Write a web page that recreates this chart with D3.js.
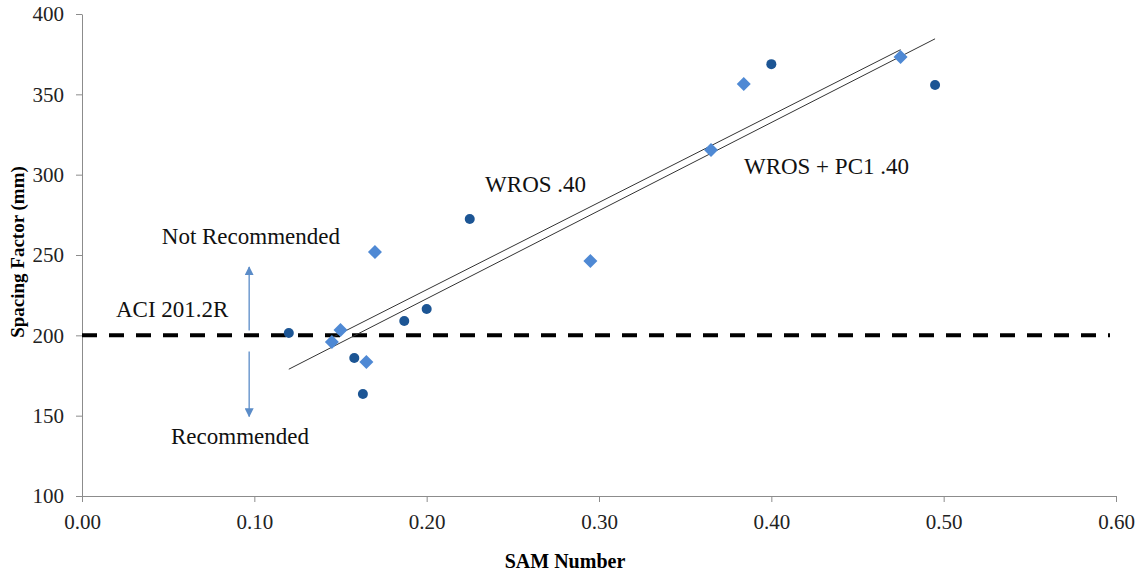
<!DOCTYPE html>
<html>
<head>
<meta charset="utf-8">
<script src="https://cdn.jsdelivr.net/npm/d3@7"></script>
<style>
body { margin: 0; background: #fff; }
svg text { font-family: "Times New Roman", "Liberation Serif", Times, "DejaVu Serif", serif; }
</style>
</head>
<body>
<script>
// WROS .40 (circles)
var wrosX = [0.120, 0.158, 0.163, 0.187, 0.200, 0.225, 0.400, 0.495];
var wrosY = [201.4, 185.9, 163.5, 208.9, 216.4, 272.4, 368.8, 355.8];
// WROS + PC1 .40 (diamonds)
var pc1X = [0.145, 0.150, 0.165, 0.170, 0.295, 0.365, 0.384, 0.475];
var pc1Y = [195.8, 203.3, 183.4, 251.8, 246.2, 315.3, 356.4, 373.2];

var xTicks = [0, 0.1, 0.2, 0.3, 0.4, 0.5, 0.6];
var yTicks = [100, 150, 200, 250, 300, 350, 400];
var limit = 200; // ACI 201.2R

var margin = { left: 82, right: 28, top: 14, bottom: 75 };
var width = 1144 - margin.left - margin.right;
var height = 571 - margin.top - margin.bottom;

var svg = d3.select('body').append('svg')
	.attr('width', 1144)
	.attr('height', 571);

var defs = svg.append('defs');
defs.append('marker')
	.attr('id', 'arrow')
	.attr('viewBox', '0 0 10 10')
	.attr('refX', 9).attr('refY', 5)
	.attr('markerWidth', 9).attr('markerHeight', 9)
	.attr('markerUnits', 'userSpaceOnUse')
	.attr('orient', 'auto')
	.append('path').attr('d', 'M0,0 L10,5 L0,10 z').attr('fill', '#5b8cc8');

var g = svg.append('g').attr('transform', 'translate(' + margin.left + ',' + margin.top + ')');

var x = d3.scaleLinear().domain([0, 0.6]).range([0, width]);
var y = d3.scaleLinear().domain([100, 400]).range([height, 0]);

// axes
var xAxis = g.append('g').attr('transform', 'translate(0,' + height + ')')
	.call(d3.axisBottom(x).tickValues(xTicks).tickFormat(d3.format('.2f')).tickSizeInner(6).tickSizeOuter(0).tickPadding(12));
var yAxis = g.append('g')
	.call(d3.axisLeft(y).tickValues(yTicks).tickSizeInner(6).tickSizeOuter(0).tickPadding(12));
[xAxis, yAxis].forEach(function(a) {
	a.attr('font-family', null).attr('font-size', null);
	a.selectAll('path, line').attr('stroke', '#8c8c8c');
	a.selectAll('text').attr('font-size', '21px').attr('fill', '#222');
});

// axis titles
g.append('text')
	.attr('x', 565 - margin.left).attr('y', height + 72)
	.attr('text-anchor', 'middle')
	.attr('font-size', '20px').attr('font-weight', 'bold')
	.text('SAM Number');
g.append('text')
	.attr('transform', 'translate(-58,' + (252 - margin.top) + ') rotate(-90)')
	.attr('text-anchor', 'middle')
	.attr('font-size', '19px').attr('font-weight', 'bold')
	.text('Spacing Factor (mm)');

// ACI limit line
g.append('line')
	.attr('x1', x(0)).attr('x2', x(0.6) - 6)
	.attr('y1', y(limit)).attr('y2', y(limit))
	.attr('stroke', '#000').attr('stroke-width', 4)
	.attr('stroke-dasharray', '15,12');

// least squares trend lines
function trend(xs, ys) {
	var mx = d3.mean(xs), my = d3.mean(ys);
	var sxy = d3.sum(xs, function(v, i) { return (v - mx) * (ys[i] - my); });
	var sxx = d3.sum(xs, function(v) { return (v - mx) * (v - mx); });
	var b = sxy / sxx, a = my - b * mx;
	var x0 = d3.min(xs), x1 = d3.max(xs);
	return [[x0, a + b * x0], [x1, a + b * x1]];
}
[trend(wrosX, wrosY), trend(pc1X, pc1Y)].forEach(function(t) {
	g.append('line')
		.attr('x1', x(t[0][0])).attr('y1', y(t[0][1]))
		.attr('x2', x(t[1][0])).attr('y2', y(t[1][1]))
		.attr('stroke', '#333').attr('stroke-width', 1);
});

// diamonds
g.selectAll('.pc1')
	.data(pc1X)
	.enter()
	.append('path')
	.attr('class', 'pc1')
	.attr('d', 'M0,-7 L7,0 L0,7 L-7,0 Z')
	.attr('transform', function(d, i) { return 'translate(' + x(d) + ',' + y(pc1Y[i]) + ')'; })
	.attr('fill', '#4f89d4');

// circles
g.selectAll('.wros')
	.data(wrosX)
	.enter()
	.append('circle')
	.attr('class', 'wros')
	.attr('cx', function(d) { return x(d); })
	.attr('cy', function(d, i) { return y(wrosY[i]); })
	.attr('r', 5)
	.attr('fill', '#1c5594');

// arrows
var ax = x(0.097);
g.append('line')
	.attr('x1', ax).attr('x2', ax)
	.attr('y1', y(203)).attr('y2', y(242.5))
	.attr('stroke', '#5b8cc8').attr('stroke-width', 1.3)
	.attr('marker-end', 'url(#arrow)');
g.append('line')
	.attr('x1', ax).attr('x2', ax)
	.attr('y1', y(190)).attr('y2', y(149.5))
	.attr('stroke', '#5b8cc8').attr('stroke-width', 1.3)
	.attr('marker-end', 'url(#arrow)');

// annotations
var notes = [
	{ t: 'Not Recommended', v: [0.098, 256.8], a: 'middle' },
	{ t: 'ACI 201.2R', v: [0.0197, 211.4], a: 'start' },
	{ t: 'Recommended', v: [0.0917, 132.4], a: 'middle' },
	{ t: 'WROS .40', v: [0.2339, 289.2], a: 'start' },
	{ t: 'WROS + PC1 .40', v: [0.3841, 300.4], a: 'start' }
];
g.selectAll('.note')
	.data(notes)
	.enter()
	.append('text')
	.attr('class', 'note')
	.attr('x', function(d) { return x(d.v[0]); })
	.attr('y', function(d) { return y(d.v[1]); })
	.attr('text-anchor', function(d) { return d.a; })
	.attr('font-size', '23px')
	.attr('fill', '#111')
	.text(function(d) { return d.t; });
</script>
</body>
</html>
